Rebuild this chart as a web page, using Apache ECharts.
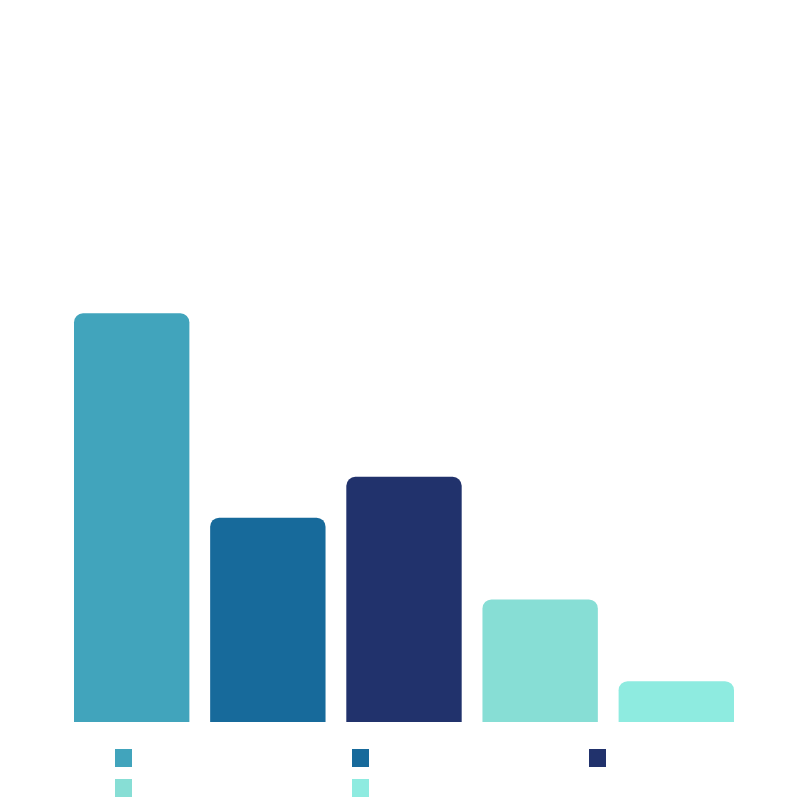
<!DOCTYPE html>
<html>
<head>
<meta charset="utf-8">
<script src="https://cdn.jsdelivr.net/npm/echarts@6/dist/echarts.min.js"></script>
<style>
    html, body { margin: 0; padding: 0; background: #fff; }
    #chart { width: 800px; height: 800px; }
</style>
</head>
<body>
<div id="chart"></div>
<script>
var categories = [''];
var seriesNames = ['Series 1', 'Series 2', 'Series 3', 'Series 4', 'Series 5'];
var seriesValues = [10, 5, 6, 3, 1];
var colors = ['#41a4bc', '#176a9b', '#21326c', '#87ded5', '#8eebe0'];

var myChart = echarts.init(document.getElementById('chart'));

var series = seriesNames.map(function (name, i) {
    return {
        name: name,
        type: 'bar',
        data: [seriesValues[i]],
        barGap: '18%',
        barCategoryGap: '0%',
        itemStyle: {
            color: colors[i],
            borderRadius: [9, 9, 0, 0]
        }
    };
});

// legend laid out in a 3-column grid, one small legend per entry
var legends = seriesNames.map(function (name, i) {
    return {
        data: [name],
        left: 115 + (i % 3) * 237,
        top: 749 + Math.floor(i / 3) * 30,
        padding: 0,
        itemWidth: 17,
        itemHeight: 18,
        icon: 'rect',
        textStyle: {
            color: '#ffffff',
            fontSize: 12
        }
    };
});

var option = {
    animation: false,
    legend: legends,
    grid: {
        left: 74,
        right: 66,
        top: 68,
        bottom: 78
    },
    xAxis: {
        type: 'category',
        data: categories,
        axisLine: { show: false },
        axisTick: { show: false },
        axisLabel: { show: false }
    },
    yAxis: {
        type: 'value',
        min: 0,
        max: 16,
        splitLine: { show: false },
        axisLine: { show: false },
        axisTick: { show: false },
        axisLabel: { show: false }
    },
    series: series
};

myChart.setOption(option);
</script>
</body>
</html>
